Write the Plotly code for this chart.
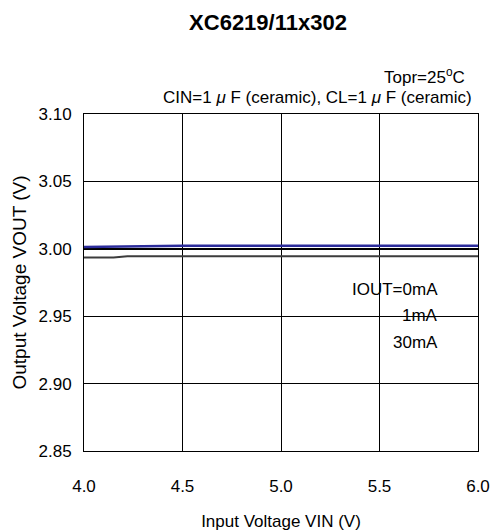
import plotly.graph_objects as go

vin = [4.0, 4.15, 4.22, 4.5, 5.0, 5.5, 6.0]
vout_0ma = [3.0013, 3.0016, 3.0017, 3.0022, 3.0022, 3.0022, 3.0022]
vout_1ma = [2.9999, 2.9999, 2.9999, 2.9999, 2.9999, 2.9999, 2.9999]
vout_30ma = [2.9935, 2.9935, 2.9944, 2.9944, 2.9944, 2.9944, 2.9944]
xticks = [4.0, 4.5, 5.0, 5.5, 6.0]
yticks = [2.85, 2.90, 2.95, 3.00, 3.05, 3.10]
labels = ["IOUT=0mA", "1mA", "30mA"]
label_y = [2.9696, 2.9507, 2.9307]

font = "Liberation Sans, Arial, sans-serif"
fig = go.Figure()
fig.add_trace(go.Scatter(x=vin, y=vout_30ma, mode="lines", line=dict(color="#3c3c3c", width=2)))
fig.add_trace(go.Scatter(x=vin, y=vout_1ma, mode="lines", line=dict(color="#000000", width=2)))
fig.add_trace(go.Scatter(x=vin, y=vout_0ma, mode="lines", line=dict(color="#2b2b9b", width=2.5)))

fig.update_layout(
    width=494, height=531,
    margin=dict(l=84, r=15.5, t=113.5, b=80),
    paper_bgcolor="white", plot_bgcolor="white",
    showlegend=False,
    font=dict(family=font, size=17, color="black"),
    title=dict(text="<b>XC6219/11x302</b>", x=0.5425, xanchor="center", y=0.9585, yanchor="middle",
               font=dict(size=22, family=font)),
)
fig.update_xaxes(range=[4.0, 6.0], tickvals=xticks, ticktext=["%.1f" % v for v in xticks],
                 showgrid=True, gridcolor="black", gridwidth=1, showline=True, linecolor="black",
                 linewidth=1, mirror=True, ticks="", zeroline=False, ticklabelstandoff=20,
                 tickfont=dict(size=17), automargin=False,
                 title=dict(text="Input Voltage VIN (V)", standoff=22, font=dict(size=17)))
fig.update_yaxes(range=[2.85, 3.10], tickvals=yticks, ticktext=["%.2f" % v for v in yticks],
                 showgrid=True, gridcolor="black", gridwidth=1, showline=True, linecolor="black",
                 linewidth=1, mirror=True, ticks="", zeroline=False, ticklabelstandoff=8,
                 tickfont=dict(size=17), automargin=False,
                 title=dict(text="Output Voltage VOUT (V)", standoff=6, font=dict(size=19)))

fig.add_annotation(text="Topr=25<sup>o</sup>C", xref="paper", yref="paper", x=0.971, y=1.114,
                   xanchor="right", yanchor="middle", showarrow=False, font=dict(size=17))
fig.add_annotation(text="CIN=1 <i>μ</i> F (ceramic), CL=1 <i>μ</i> F (ceramic)", xref="paper", yref="paper",
                   x=0.991, y=1.050, xanchor="right", yanchor="middle", showarrow=False, font=dict(size=17))
for label, yv in zip(labels, label_y):
    fig.add_annotation(text=label, x=5.805, y=yv, xanchor="right", yanchor="middle",
                       showarrow=False, font=dict(size=17))

fig.write_html("out.html", config={"displayModeBar": False},
               post_script="document.body.style.margin='0';")
